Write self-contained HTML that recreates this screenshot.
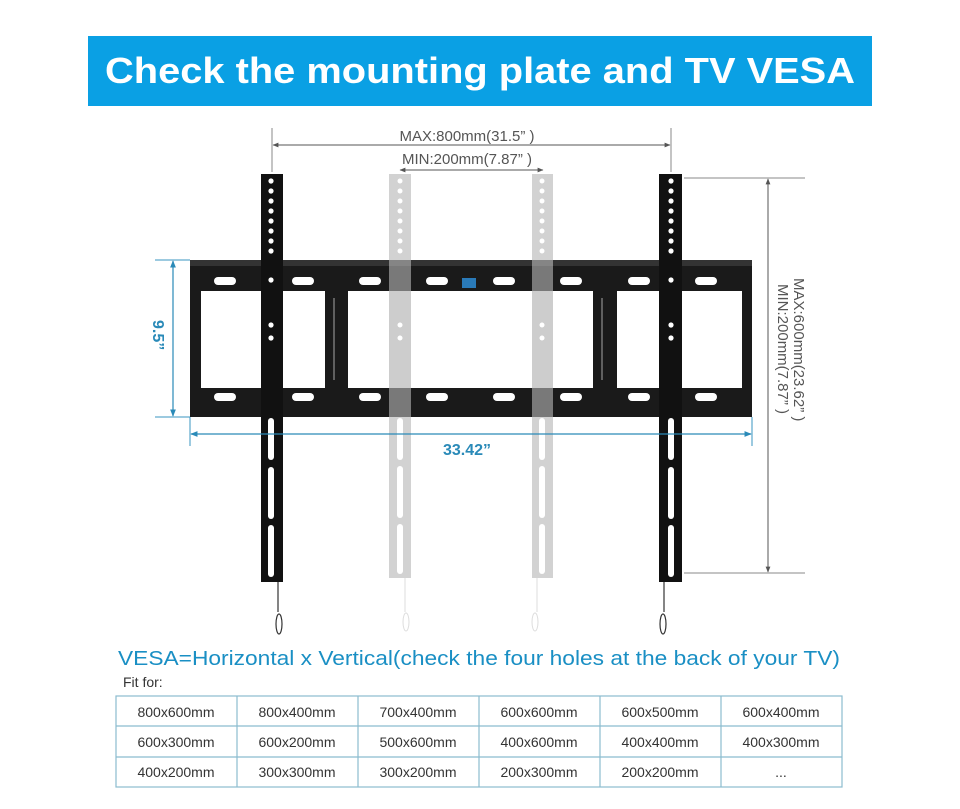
<!DOCTYPE html>
<html><head><meta charset="utf-8"><style>
html,body{margin:0;padding:0;background:#fff;width:960px;height:809px;overflow:hidden}
svg{display:block}
text{font-family:"Liberation Sans","DejaVu Sans",sans-serif}
</style></head><body>
<svg width="960" height="809" viewBox="0 0 960 809" xmlns="http://www.w3.org/2000/svg">
<defs>
<marker id="ag" viewBox="0 0 10 10" refX="9" refY="5" markerWidth="6" markerHeight="6" orient="auto-start-reverse"><path d="M0,1 L10,5 L0,9z" fill="#555"/></marker>
<marker id="ab" viewBox="0 0 10 10" refX="9" refY="5" markerWidth="6" markerHeight="6" orient="auto-start-reverse"><path d="M0,1 L10,5 L0,9z" fill="#2a8ab8"/></marker>
</defs>
<!-- banner -->
<rect x="88" y="36" width="784" height="70" fill="#0aa0e4"/>
<text x="480" y="83" text-anchor="middle" fill="#fff" font-size="36" font-weight="bold" textLength="750" lengthAdjust="spacingAndGlyphs">Check the mounting plate and TV VESA</text>

<!-- gray arms -->
<g fill="#d2d2d2">
<rect x="389" y="174" width="22" height="404"/>
<rect x="532" y="174" width="21" height="404"/>
</g>
<g fill="#fff">
<circle cx="400" cy="181" r="2.5"/><circle cx="400" cy="191" r="2.5"/><circle cx="400" cy="201" r="2.5"/><circle cx="400" cy="211" r="2.5"/><circle cx="400" cy="221" r="2.5"/><circle cx="400" cy="231" r="2.5"/><circle cx="400" cy="241" r="2.5"/><circle cx="400" cy="251" r="2.5"/>
<circle cx="542" cy="181" r="2.5"/><circle cx="542" cy="191" r="2.5"/><circle cx="542" cy="201" r="2.5"/><circle cx="542" cy="211" r="2.5"/><circle cx="542" cy="221" r="2.5"/><circle cx="542" cy="231" r="2.5"/><circle cx="542" cy="241" r="2.5"/><circle cx="542" cy="251" r="2.5"/>
<rect x="397" y="418" width="6" height="42" rx="3"/><rect x="397" y="466" width="6" height="52" rx="3"/><rect x="397" y="524" width="6" height="50" rx="3"/>
<rect x="539" y="418" width="6" height="42" rx="3"/><rect x="539" y="466" width="6" height="52" rx="3"/><rect x="539" y="524" width="6" height="50" rx="3"/>
</g>
<g stroke="#ddd" stroke-width="1" fill="none">
<line x1="405" y1="578" x2="405" y2="612"/><ellipse cx="406" cy="622" rx="3" ry="9"/>
<line x1="537" y1="578" x2="537" y2="612"/><ellipse cx="535" cy="622" rx="3" ry="9"/>
</g>

<!-- frame -->
<path fill-rule="evenodd" fill="#1a1a1a" d="M190,260 H752 V417 H190 Z M201,291 H325 V388 H201 Z M348,291 H593 V388 H348 Z M617,291 H742 V388 H617 Z"/>
<rect x="190" y="260" width="562" height="6" fill="#333"/>
<g fill="#fff">
<rect x="214" y="277" width="22" height="8" rx="4"/><rect x="292" y="277" width="22" height="8" rx="4"/><rect x="359" y="277" width="22" height="8" rx="4"/><rect x="426" y="277" width="22" height="8" rx="4"/><rect x="493" y="277" width="22" height="8" rx="4"/><rect x="560" y="277" width="22" height="8" rx="4"/><rect x="628" y="277" width="22" height="8" rx="4"/><rect x="695" y="277" width="22" height="8" rx="4"/>
<rect x="214" y="393" width="22" height="8" rx="4"/><rect x="292" y="393" width="22" height="8" rx="4"/><rect x="359" y="393" width="22" height="8" rx="4"/><rect x="426" y="393" width="22" height="8" rx="4"/><rect x="493" y="393" width="22" height="8" rx="4"/><rect x="560" y="393" width="22" height="8" rx="4"/><rect x="628" y="393" width="22" height="8" rx="4"/><rect x="695" y="393" width="22" height="8" rx="4"/>
</g>
<!-- gray arms over frame -->
<rect x="389" y="260" width="22" height="157" fill="#c8c8c8" opacity="0.55"/>
<rect x="532" y="260" width="21" height="157" fill="#c8c8c8" opacity="0.55"/>
<g fill="#fff"><circle cx="400" cy="325" r="2.5"/><circle cx="400" cy="338" r="2.5"/><circle cx="542" cy="325" r="2.5"/><circle cx="542" cy="338" r="2.5"/></g>
<rect x="462" y="278" width="14" height="10" fill="#2a7ab8"/>
<g stroke="#777" stroke-width="1.5"><line x1="334" y1="298" x2="334" y2="380"/><line x1="602" y1="298" x2="602" y2="380"/></g>

<!-- black arms -->
<g fill="#111">
<rect x="261" y="174" width="22" height="408"/>
<rect x="659" y="174" width="23" height="408"/>
</g>
<g fill="#fff">
<circle cx="271" cy="181" r="2.6"/><circle cx="271" cy="191" r="2.6"/><circle cx="271" cy="201" r="2.6"/><circle cx="271" cy="211" r="2.6"/><circle cx="271" cy="221" r="2.6"/><circle cx="271" cy="231" r="2.6"/><circle cx="271" cy="241" r="2.6"/><circle cx="271" cy="251" r="2.6"/><circle cx="271" cy="280" r="2.6"/><circle cx="271" cy="325" r="2.6"/><circle cx="271" cy="338" r="2.6"/>
<circle cx="671" cy="181" r="2.6"/><circle cx="671" cy="191" r="2.6"/><circle cx="671" cy="201" r="2.6"/><circle cx="671" cy="211" r="2.6"/><circle cx="671" cy="221" r="2.6"/><circle cx="671" cy="231" r="2.6"/><circle cx="671" cy="241" r="2.6"/><circle cx="671" cy="251" r="2.6"/><circle cx="671" cy="280" r="2.6"/><circle cx="671" cy="325" r="2.6"/><circle cx="671" cy="338" r="2.6"/>
<rect x="268" y="418" width="6" height="42" rx="3"/><rect x="268" y="467" width="6" height="52" rx="3"/><rect x="268" y="525" width="6" height="52" rx="3"/>
<rect x="668" y="418" width="6" height="42" rx="3"/><rect x="668" y="467" width="6" height="52" rx="3"/><rect x="668" y="525" width="6" height="52" rx="3"/>
</g>
<g stroke="#333" stroke-width="1.2" fill="none">
<line x1="278" y1="582" x2="278" y2="612"/><ellipse cx="279" cy="624" rx="3" ry="10"/>
<line x1="664" y1="582" x2="664" y2="612"/><ellipse cx="663" cy="624" rx="3" ry="10"/>
</g>

<!-- top dims -->
<g stroke="#888" stroke-width="1">
<line x1="272" y1="128" x2="272" y2="172"/><line x1="671" y1="128" x2="671" y2="172"/>
<line x1="684" y1="178" x2="805" y2="178"/><line x1="684" y1="573" x2="805" y2="573"/>
</g>
<g stroke="#555" stroke-width="1">
<line x1="273" y1="145" x2="670" y2="145" marker-start="url(#ag)" marker-end="url(#ag)"/>
<line x1="400" y1="170" x2="543" y2="170" marker-start="url(#ag)" marker-end="url(#ag)"/>
<line x1="768" y1="179" x2="768" y2="572" marker-start="url(#ag)" marker-end="url(#ag)"/>
</g>
<text x="467" y="141" text-anchor="middle" fill="#555" font-size="15">MAX:800mm(31.5”  )</text>
<text x="467" y="164" text-anchor="middle" fill="#555" font-size="15">MIN:200mm(7.87”  )</text>
<text transform="translate(794,278) rotate(90)" fill="#555" font-size="15">MAX:600mm(23.62”  )</text>
<text transform="translate(778,284) rotate(90)" fill="#555" font-size="15">MIN:200mm(7.87”  )</text>

<!-- blue dims -->
<g stroke="#3a95c0" stroke-width="1">
<line x1="155" y1="260" x2="190" y2="260"/><line x1="155" y1="417" x2="190" y2="417"/>
<line x1="190" y1="417" x2="190" y2="446"/><line x1="752" y1="417" x2="752" y2="446"/>
</g>
<g stroke="#2a8ab8" stroke-width="1.2">
<line x1="173" y1="261" x2="173" y2="416" marker-start="url(#ab)" marker-end="url(#ab)"/>
<line x1="191" y1="434" x2="751" y2="434" marker-start="url(#ab)" marker-end="url(#ab)"/>
</g>
<text transform="translate(153,320) rotate(90)" fill="#2a8ab8" font-size="16" font-weight="bold">9.5”</text>
<text x="467" y="455" text-anchor="middle" fill="#2a8ab8" font-size="16" font-weight="bold">33.42”</text>

<!-- VESA -->
<text x="118" y="665" fill="#1a8fc4" font-size="20" textLength="722" lengthAdjust="spacingAndGlyphs">VESA=Horizontal x Vertical(check the four holes at the back of your TV)</text>
<text x="123" y="687" fill="#333" font-size="14">Fit for:</text>
<g stroke="#8bbccf" stroke-width="1.2" fill="none">
<rect x="116" y="696" width="726" height="91"/>
<line x1="116" y1="726" x2="842" y2="726"/><line x1="116" y1="757" x2="842" y2="757"/>
<line x1="237" y1="696" x2="237" y2="787"/><line x1="358" y1="696" x2="358" y2="787"/><line x1="479" y1="696" x2="479" y2="787"/><line x1="600" y1="696" x2="600" y2="787"/><line x1="721" y1="696" x2="721" y2="787"/>
</g>
<g fill="#333" font-size="14" text-anchor="middle">
<text x="176" y="717">800x600mm</text><text x="297" y="717">800x400mm</text><text x="418" y="717">700x400mm</text><text x="539" y="717">600x600mm</text><text x="660" y="717">600x500mm</text><text x="781" y="717">600x400mm</text>
<text x="176" y="747">600x300mm</text><text x="297" y="747">600x200mm</text><text x="418" y="747">500x600mm</text><text x="539" y="747">400x600mm</text><text x="660" y="747">400x400mm</text><text x="781" y="747">400x300mm</text>
<text x="176" y="777">400x200mm</text><text x="297" y="777">300x300mm</text><text x="418" y="777">300x200mm</text><text x="539" y="777">200x300mm</text><text x="660" y="777">200x200mm</text><text x="781" y="777">...</text>
</g>
</svg>
</body></html>
